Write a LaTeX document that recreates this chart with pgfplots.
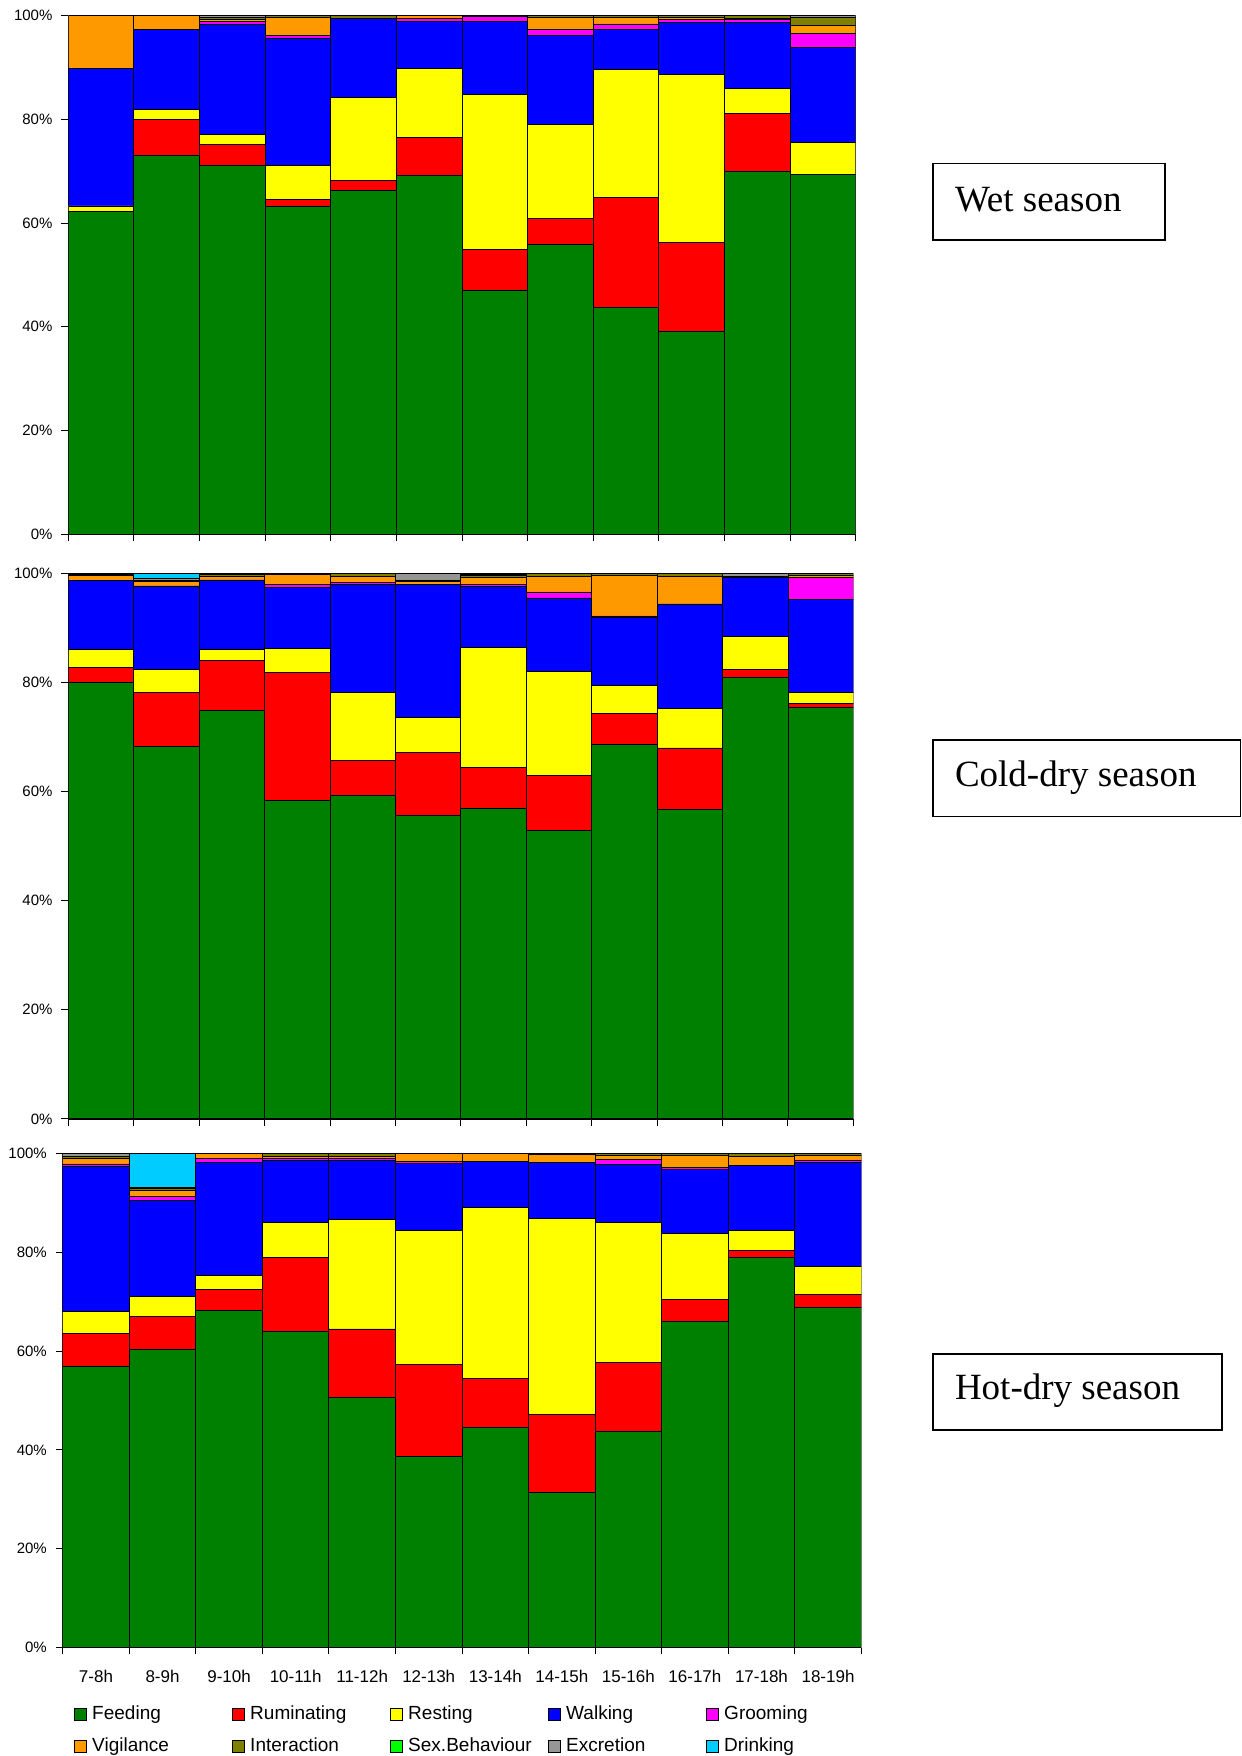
\documentclass[border=0pt]{standalone}
\usepackage{fontspec}
\setmainfont{Liberation Sans}
\newfontfamily\timesf{Liberation Serif}
\usepackage{pgfplots}
\usepackage{pgfplotstable}
\pgfplotsset{compat=1.18}

\definecolor{cFeed}{RGB}{0,128,0}
\definecolor{cRum}{RGB}{255,0,0}
\definecolor{cRest}{RGB}{255,255,0}
\definecolor{cWalk}{RGB}{0,0,255}
\definecolor{cGroom}{RGB}{255,0,255}
\definecolor{cVig}{RGB}{255,153,0}
\definecolor{cInt}{RGB}{128,128,0}
\definecolor{cSex}{RGB}{0,255,0}
\definecolor{cExc}{RGB}{150,150,150}
\definecolor{cDrink}{RGB}{0,204,255}

% columns: x Feeding Ruminating Resting Walking Grooming Vigilance Interaction Sex Excretion Drinking
\pgfplotstableread{
x F R Re W G V I S E D
0 62.2 0 1.1 26.5 0 10.2 0 0 0 0
1 73.1 6.9 1.9 15.5 0 2.6 0 0 0 0
2 71.2 3.9 2.0 21.3 0.4 0.4 0.5 0 0.3 0
3 63.3 1.2 6.7 24.5 0.5 3.5 0.3 0 0 0
4 66.3 2.0 15.9 15.2 0 0 0.6 0 0 0
5 69.1 7.4 13.3 9.0 0.6 0.6 0 0 0 0
6 47.1 7.9 29.8 14.0 1.0 0.2 0 0 0 0
7 55.8 5.1 18.1 17.1 1.3 2.3 0.3 0 0 0
8 43.7 21.2 24.7 7.8 1.0 1.2 0.4 0 0 0
9 39.1 17.1 32.5 10.0 0.5 0.5 0.3 0 0 0
10 69.9 11.3 4.8 12.7 0.5 0.3 0.5 0 0 0
11 69.4 0 6.1 18.3 2.8 1.5 1.5 0 0.4 0
}\wet

\pgfplotstableread{
x F R Re W G V I S E D
0 80.1 2.6 3.3 12.7 0 0.85 0.25 0 0.2 0
1 68.2 10.0 4.2 15.3 0 0.8 0.3 0 0.2 1.0
2 74.9 9.1 2.1 12.7 0 0.7 0.3 0 0.2 0
3 58.3 23.5 4.4 11.2 0.6 1.8 0.2 0 0 0
4 59.3 6.4 12.5 19.8 0.3 1.2 0.5 0 0 0
5 55.7 11.4 6.5 24.4 0 0.6 0.2 0 1.2 0
6 57.0 7.4 22.0 11.2 0.4 1.2 0.4 0.2 0.2 0
7 52.8 10.2 19.0 13.5 1.1 2.8 0.6 0 0 0
8 68.6 5.7 5.2 12.5 0.2 7.4 0.4 0 0 0
9 56.8 11.2 7.3 19.1 0 5.1 0.5 0 0 0
10 80.9 1.5 6.0 10.8 0 0 0.2 0 0.6 0
11 75.4 0.8 1.9 17.1 4.0 0.4 0.4 0 0 0
}\colddry

\pgfplotstableread{
x F R Re W G V I S E D
0 57.0 6.6 4.4 29.4 0.5 1.2 0.4 0 0.5 0
1 60.3 6.8 3.9 19.6 0.8 1.1 0.4 0 0.3 6.8
2 68.3 4.2 2.9 22.9 0.8 0.9 0 0 0 0
3 63.9 15.1 7.0 12.6 0.4 0.5 0.5 0 0 0
4 50.6 13.9 22.1 12.0 0.4 0.5 0.5 0 0 0
5 38.6 18.8 27.1 13.5 0.4 1.6 0 0 0 0
6 44.5 10.0 34.6 9.3 0 1.6 0 0 0 0
7 31.4 15.7 39.8 11.3 0 1.6 0.2 0 0 0
8 43.7 14.1 28.3 11.7 1.0 0.8 0.4 0 0 0
9 66.0 4.5 13.4 12.8 0.5 2.4 0.4 0 0 0
10 78.9 1.4 4.2 13.1 0 1.9 0.5 0 0 0
11 68.8 2.7 5.7 21.0 0.4 1.0 0.4 0 0 0
}\hotdry

\pgfplotsset{
  panel/.style={
    scale only axis,
    anchor=south west,
    ybar stacked,
    bar width=1,
    xmin=-0.5, xmax=11.5,
    ymin=0, ymax=100,
    enlargelimits=false,
    axis lines=left,
    axis line style={-, line width=0.6pt},
    ytick={0,20,40,60,80,100},
    yticklabel={\pgfmathprintnumber{\tick}\%},
    yticklabel style={font=\fontsize{7.5}{9}\selectfont, xshift=-1pt},
    tick align=outside,
    major tick length=3.4pt,
    minor tick length=3.4pt,
    xtick={0,...,11},
    major x tick style={draw=none},
    minor xtick={-0.5,0.5,...,11.5},
    xticklabels={},
    tick style={black, line width=0.5pt},
    /pgf/number format/assume math mode=true,
    every axis plot/.append style={draw=black, line width=0.45pt},
    every axis plot post/.append style={legend image code/.code={\draw[##1,draw=black,line width=0.4pt] (0pt,-3pt) rectangle (6pt,3pt);}},
  },
}

\newcommand{\stackplots}[1]{%
  \addplot[fill=cFeed] table[x=x,y=F] {#1};
  \addplot[fill=cRum] table[x=x,y=R] {#1};
  \addplot[fill=cRest] table[x=x,y=Re] {#1};
  \addplot[fill=cWalk] table[x=x,y=W] {#1};
  \addplot[fill=cGroom] table[x=x,y=G] {#1};
  \addplot[fill=cVig] table[x=x,y=V] {#1};
  \addplot[fill=cInt] table[x=x,y=I] {#1};
  \addplot[fill=cSex] table[x=x,y=S] {#1};
  \addplot[fill=cExc] table[x=x,y=E] {#1};
  \addplot[fill=cDrink] table[x=x,y=D] {#1};
}
\newcommand{\legent}[1]{\makebox[69.6pt][l]{\hspace*{1pt}#1}}

\begin{document}
\begin{tikzpicture}
\path[use as bounding box] (0pt,0pt) rectangle (621pt,-878pt);

\begin{axis}[panel, at={(34.15pt,-267.1pt)}, width=393.7pt, height=259.25pt]
\stackplots{\wet}
\end{axis}

\begin{axis}[panel, at={(34.15pt,-559.45pt)}, width=392.55pt, height=272.75pt]
\stackplots{\colddry}
\end{axis}

\begin{axis}[panel, at={(31.35pt,-823.75pt)}, width=399.3pt, height=246.95pt,
  xticklabels={7-8h,8-9h,9-10h,10-11h,11-12h,12-13h,13-14h,14-15h,15-16h,16-17h,17-18h,18-19h},
  xticklabel style={font=\fontsize{8.5}{10}\selectfont, yshift=-4.5pt},
  legend columns=5,
  legend style={at={(0.0142,-0.1113)}, anchor=north west, draw=none, fill=none,
    inner sep=0pt, row sep=4.5pt,
    nodes={inner sep=1.5pt, font=\fontsize{9.5}{11}\selectfont}},
  legend cell align=left,
  legend entries={\legent{Feeding},\legent{Ruminating},\legent{Resting},\legent{Walking},\legent{Grooming},\legent{Vigilance},\legent{Interaction},\legent{Sex.Behaviour},\legent{Excretion},\legent{Drinking}},
]
\stackplots{\hotdry}
\end{axis}

% season labels
\draw[line width=0.8pt] (466.5pt,-81.75pt) rectangle (582.5pt,-119.85pt);
\node[anchor=west, inner sep=0pt, font=\timesf\fontsize{18.5}{22}\selectfont] at (477.3pt,-99.8pt) {Wet season};
\draw[line width=0.8pt] (466.5pt,-370pt) rectangle (620.3pt,-408.25pt);
\node[anchor=west, inner sep=0pt, font=\timesf\fontsize{18.5}{22}\selectfont] at (477.3pt,-388.6pt) {Cold-dry season};
\draw[line width=0.8pt] (466.5pt,-677pt) rectangle (611pt,-715pt);
\node[anchor=west, inner sep=0pt, font=\timesf\fontsize{18.5}{22}\selectfont] at (477.3pt,-695.5pt) {Hot-dry season};
\end{tikzpicture}
\end{document}
